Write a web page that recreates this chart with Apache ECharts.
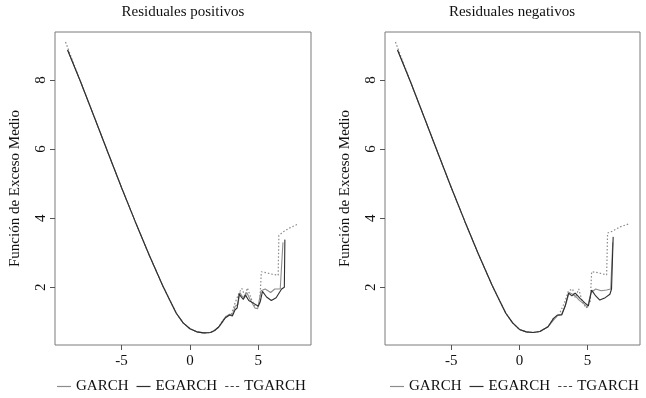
<!DOCTYPE html>
<html>
<head>
<meta charset="utf-8">
<script src="https://cdn.jsdelivr.net/npm/echarts@6/dist/echarts.min.js"></script>
<style>html,body{margin:0;padding:0;background:#fff}#c{width:646px;height:398px}</style>
</head>
<body>
<div id="c"></div>
<script>
// ---- Data ----
var panelTitles = ['Residuales positivos', 'Residuales negativos'];
var seriesNames = ['GARCH', 'EGARCH', 'TGARCH'];
var yAxisTitle = 'Función de Exceso Medio';
var xTicks = [-5, 0, 5];
var yTicks = [2, 4, 6, 8];

// Residuales positivos
var posGarchX  = [-8.95,-8,-7,-6,-5,-4,-3,-2.5,-2,-1.5,-1,-0.5,0,0.5,1,1.5,1.8,2.1,2.4,2.6,2.9,3.1,3.3,3.5,3.65,3.8,4.0,4.15,4.4,4.75,4.95,5.2,5.5,5.9,6.2,6.6,6.8];
var posGarchY  = [8.87,7.95,6.93,5.9,4.88,3.9,2.95,2.5,2.05,1.65,1.25,0.97,0.8,0.71,0.68,0.69,0.75,0.85,1.0,1.15,1.22,1.2,1.45,1.5,1.85,1.75,1.7,1.85,1.65,1.4,1.38,1.9,1.95,1.85,1.95,1.95,3.3];
var posEgarchX = [-8.95,-8,-7,-6,-5,-4,-3,-2.5,-2,-1.5,-1,-0.5,0,0.5,1,1.5,1.8,2.1,2.4,2.6,2.9,3.1,3.3,3.45,3.6,3.75,3.9,4.05,4.3,4.6,5.0,5.15,5.3,5.6,5.95,6.3,6.7,6.9,6.94];
var posEgarchY = [8.87,7.95,6.93,5.9,4.88,3.9,2.95,2.5,2.05,1.65,1.25,0.97,0.8,0.71,0.68,0.69,0.75,0.85,1.02,1.12,1.2,1.17,1.35,1.4,1.81,1.72,1.65,1.78,1.62,1.55,1.45,1.6,1.88,1.72,1.62,1.7,1.95,2.0,3.38];
var posTgarchX = [-9.1,-8,-7,-6,-5,-4,-3,-2.5,-2,-1.5,-1,-0.5,0,0.5,1,1.5,1.8,2.1,2.4,2.7,3.0,3.3,3.6,3.8,4.0,4.2,4.5,4.85,5.1,5.22,5.6,6.0,6.45,6.5,6.8,7.3,7.9];
var posTgarchY = [9.1,7.95,6.93,5.9,4.88,3.9,2.95,2.5,2.05,1.65,1.25,0.97,0.8,0.71,0.68,0.69,0.75,0.85,1.05,1.18,1.2,1.55,1.85,1.97,1.75,1.98,1.65,1.38,1.55,2.45,2.42,2.38,2.35,3.5,3.6,3.72,3.83];

// Residuales negativos
var negGarchX  = [-8.95,-8,-7,-6,-5,-4,-3,-2.5,-2,-1.5,-1,-0.5,0,0.5,1,1.5,2.1,2.5,2.8,3.1,3.4,3.65,3.9,4.1,4.4,4.8,5.0,5.25,5.6,6.0,6.4,6.7,6.85];
var negGarchY  = [8.87,7.95,6.93,5.9,4.88,3.9,2.95,2.5,2.05,1.65,1.25,0.97,0.78,0.71,0.69,0.72,0.86,1.05,1.18,1.22,1.5,1.85,1.8,1.75,1.62,1.5,1.42,1.85,1.95,1.9,1.92,1.95,3.3];
var negEgarchX = [-8.95,-8,-7,-6,-5,-4,-3,-2.5,-2,-1.5,-1,-0.5,0,0.5,1,1.5,2.1,2.5,2.8,3.1,3.35,3.6,3.85,4.1,4.45,4.8,5.06,5.3,5.6,5.9,6.3,6.64,6.76,6.88];
var negEgarchY = [8.87,7.95,6.93,5.9,4.88,3.9,2.95,2.5,2.05,1.65,1.25,0.97,0.78,0.71,0.69,0.72,0.86,1.1,1.2,1.2,1.45,1.83,1.75,1.83,1.68,1.55,1.46,1.92,1.75,1.63,1.7,1.8,1.95,3.46];
var negTgarchX = [-9.1,-8,-7,-6,-5,-4,-3,-2.5,-2,-1.5,-1,-0.5,0,0.5,1,1.5,2.1,2.5,2.9,3.3,3.6,3.9,4.1,4.35,4.6,4.9,5.2,5.3,5.8,6.4,6.47,6.8,7.4,7.98];
var negTgarchY = [9.1,7.95,6.93,5.9,4.88,3.9,2.95,2.5,2.05,1.65,1.25,0.97,0.78,0.71,0.69,0.72,0.86,1.1,1.2,1.55,1.9,1.95,1.7,1.95,1.6,1.4,1.6,2.45,2.42,2.36,3.57,3.62,3.75,3.83];

// ---- Chart ----
var FONT = "'Liberation Serif','Times New Roman',serif";
function pairs(xs, ys){ return xs.map(function(x,i){ return [x, ys[i]]; }); }

var styles = {
  GARCH:  {color:'#8c8c8c', width:1.1, type:'solid', z:3},
  EGARCH: {color:'#2e2e2e', width:1.1, type:'solid', z:4},
  TGARCH: {color:'#8a8a8a', width:1.2, type:[1.5,2], z:2}
};
var legendIcons = {
  GARCH: 'rect',
  EGARCH: 'rect',
  TGARCH: 'path://M0,0h3v1h-3zM5,0h3v1h-3zM10,0h3v1h-3z'
};
var panelData = [
  [pairs(posGarchX,posGarchY), pairs(posEgarchX,posEgarchY), pairs(posTgarchX,posTgarchY)],
  [pairs(negGarchX,negGarchY), pairs(negEgarchX,negEgarchY), pairs(negTgarchX,negTgarchY)]
];
var grids = [
  {left:55, right:335, top:32, bottom:53},
  {left:385, right:6, top:32, bottom:53}
];
var centers = [183, 512];
var legendLefts = [57, 390];

var option = {
  animation:false,
  backgroundColor:'#fff',
  title: panelTitles.map(function(t,i){
    return {text:t, left:centers[i], top:5, textAlign:'center', padding:0,
      textStyle:{fontFamily:FONT, fontSize:15, fontWeight:'normal', color:'#111'}};
  }),
  legend: legendLefts.map(function(l){
    return {data:seriesNames.map(function(n){
        return {name:n, icon:legendIcons[n], itemStyle:{color:n==='TGARCH' ? '#444' : styles[n].color}};
      }),
      left:l, top:379, itemWidth:14, itemHeight:1.2, itemGap:8,
      textStyle:{fontFamily:FONT, fontSize:15, color:'#111'}, padding:0, selectedMode:false};
  }),
  grid: grids.map(function(g){
    return Object.assign({show:true, borderColor:'#7a7a7a', borderWidth:1, backgroundColor:'transparent'}, g);
  }),
  xAxis: [0,1].map(function(i){
    return {type:'value', gridIndex:i, min:-9.87, max:8.85,
      axisLine:{show:false, onZero:false}, splitLine:{show:false},
      axisTick:{show:true, length:5, customValues:xTicks, lineStyle:{color:'#555'}},
      axisLabel:{customValues:xTicks, margin:9, fontFamily:FONT, fontSize:15, color:'#111'}};
  }),
  yAxis: [0,1].map(function(i){
    return {type:'value', gridIndex:i, min:0.33, max:9.39,
      name:yAxisTitle, nameLocation:'middle', nameGap:32,
      nameTextStyle:{fontFamily:FONT, fontSize:15, color:'#111'},
      axisLine:{show:false, onZero:false}, splitLine:{show:false},
      axisTick:{show:true, length:5, customValues:yTicks, lineStyle:{color:'#555'}},
      axisLabel:{customValues:yTicks, rotate:90, margin:6, fontFamily:FONT, fontSize:15, color:'#111'}};
  }),
  series: []
};
[0,1].forEach(function(p){
  seriesNames.forEach(function(n,k){
    var s = styles[n];
    option.series.push({name:n, type:'line', xAxisIndex:p, yAxisIndex:p,
      data:panelData[p][k], showSymbol:false, symbol:'none', smooth:false,
      itemStyle:{color:s.color},
      lineStyle:{color:s.color, width:s.width, type:s.type}, z: s.z});
  });
});
var chart = echarts.init(document.getElementById('c'), null, {renderer:'canvas'});
chart.setOption(option);
</script>
</body>
</html>
